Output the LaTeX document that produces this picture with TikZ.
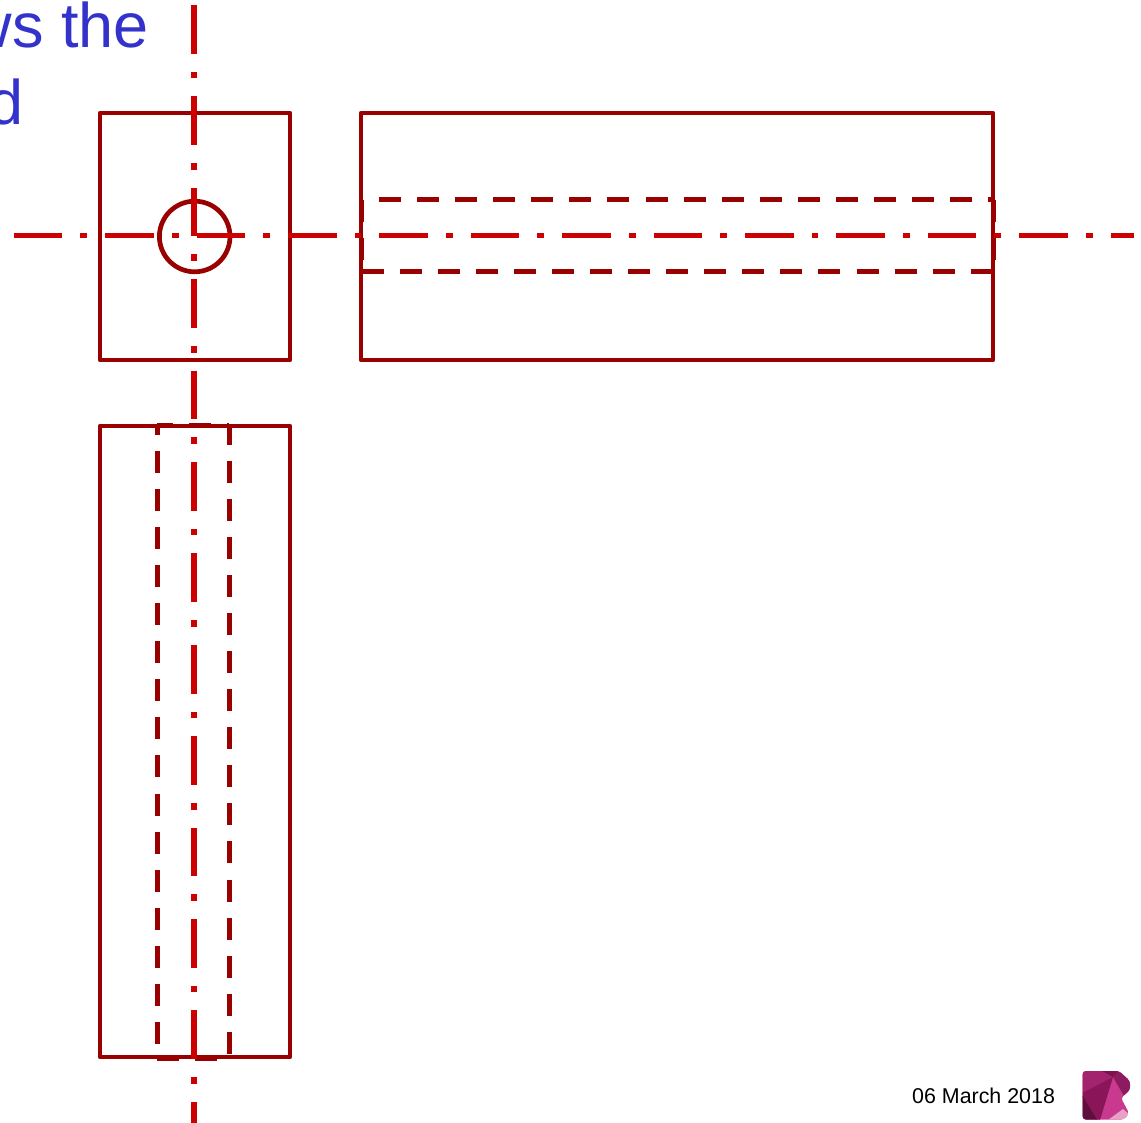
\documentclass[tikz,border=0pt]{standalone}
\usepackage{fontspec}
\setmainfont{Liberation Sans}
\definecolor{outlinered}{HTML}{990000}
\definecolor{centrered}{HTML}{CC0000}
\definecolor{titleblue}{HTML}{3333CC}
\definecolor{logoa}{HTML}{A3246E}
\definecolor{logob}{HTML}{7E1150}
\definecolor{logoc}{HTML}{8E1A60}
\definecolor{logod}{HTML}{C93A8E}
\definecolor{logoe}{HTML}{8A1558}
\definecolor{logof}{HTML}{5E0F3D}
\definecolor{logog}{HTML}{E9A0C6}
\tikzset{
	outline/.style={draw=outlinered,line width=4.7pt,line join=round},
	hidden/.style={draw=outlinered,line width=5pt,dash pattern=on 22pt off 16.08pt},
	centreline/.style={draw=centrered,line width=5.6pt,dash pattern=on 48.7pt off 18pt on 6.7pt off 18pt},
	title/.style={text=titleblue,font=\fontsize{63pt}{63pt}\selectfont,anchor=base east,inner sep=0pt},
}
\begin{document}
\begin{tikzpicture}[x=1pt,y=-1pt]
	\useasboundingbox (0,0) rectangle (1141,1123);
	% title text, cut by the page
	\node[title] (line1) at (149,47.5) {ws the};
	\node[title] (line2) at (24,124.5) {d};
	% hidden lines
	\draw[hidden] (379,199.5)--(993,199.5);
	\draw[hidden] (361.5,271.5)--(993,271.5);
	\draw[hidden] (361.5,200)--(361.5,271);
	\draw[hidden] (993,200)--(993,271);
	\draw[hidden,dash phase=13.3pt] (157.5,426)--(157.5,1057);
	\draw[hidden,dash phase=3.4pt] (229.5,426)--(229.5,1057);
	\draw[hidden,dash phase=6pt] (157,425.5)--(229,425.5);
	\draw[hidden] (157,1058)--(229,1058);
	% outlines of the three views
	\draw[outline] (100,113) rectangle (290,360);
	\draw[outline] (361,113) rectangle (993,360);
	\draw[outline] (100,426) rectangle (290,1057);
	\draw[outline] (194.7,236.5) circle (35.3);
	% centre lines
	\draw[centreline] (13.7,235.5)--(1134,235.5);
	\draw[centreline] (193.7,5)--(193.7,1123);
	% date and logo
	\node[anchor=base west,inner sep=0pt,font=\fontsize{21.4pt}{21.4pt}\selectfont] (date) at (912,1103) {06 March 2018};
	\begin{scope}
		\clip[rounded corners=3pt] (1082.7,1071)--(1119,1071)--(1130,1081)--(1130,1090)--(1121,1098)--(1129,1113)--(1124,1119.5)--(1082.7,1119.5)--cycle;
		\fill[logod] (1082,1070) rectangle (1131,1120);
		\fill[logoa] (1082,1070)--(1100,1070)--(1113,1077)--(1082,1093)--cycle;
		\fill[logob] (1100,1070)--(1120,1070)--(1113,1077)--cycle;
		\fill[logoc] (1113,1077)--(1120,1070)--(1131,1080)--(1131,1090)--(1124,1096)--cycle;
		\fill[logoe] (1082,1093)--(1113,1077)--(1100,1120)--(1096,1120)--(1082,1096)--cycle;
		\fill[logof] (1082,1095)--(1097,1120)--(1082,1120)--cycle;
		\fill[logog] (1108,1120)--(1123,1109)--(1130,1115)--(1126,1120)--cycle;
	\end{scope}
\end{tikzpicture}
\end{document}
